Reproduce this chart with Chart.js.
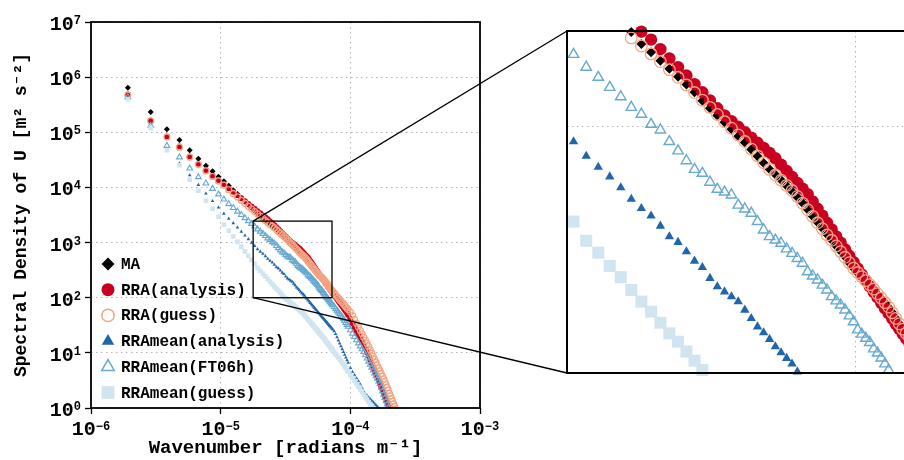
<!DOCTYPE html>
<html>
<head>
<meta charset="utf-8">
<script src="https://cdn.jsdelivr.net/npm/chart.js@4.4.1/dist/chart.umd.min.js"></script>
<style>
  html, body { margin: 0; padding: 0; background: #fff; }
  #wrap { position: relative; width: 904px; height: 460px; overflow: hidden; }
  #mainChart { position: absolute; left: 0; top: 0; }
  #insetChart { position: absolute; left: 557px; top: 21px; }
</style>
</head>
<body>
<div id="wrap">
  <canvas id="mainChart" width="904" height="460"></canvas>
  <canvas id="insetChart" width="366" height="362"></canvas>
</div>
<script>
// wavenumber index n, the wavenumber is n * dk [radians m^-1]
const dk = 9.62e-7;
const waveIndex = [
  2, 3, 4, 5, 6, 7, 8, 9, 10, 11, 12, 13, 14, 15, 16, 17, 18, 19, 20, 21, 22, 23, 24,
  25, 26, 27, 28, 29, 30, 31, 32, 33, 34, 35, 36, 37, 38, 39, 40, 41, 42, 43, 44, 45, 46, 47, 48, 49, 50,
  51, 52, 53, 54, 55, 56, 57, 58, 59, 60, 61, 62, 63, 64, 65, 66, 67, 68, 69, 70, 71, 72, 73, 74, 75, 76,
  78, 80, 82, 84, 86, 88, 90, 92, 94, 96, 98, 100,
  104, 108, 112, 116, 120, 124, 128, 132, 136, 140, 144, 148, 152, 156, 160, 164, 168, 172, 176, 180,
  184, 188, 192, 196, 200, 204, 208, 212, 216, 220, 224, 228, 232, 236, 240
];

// log10 of the spectral density [m^2 s^-2], one value per waveIndex
const maLog = [
  5.809, 5.368, 5.054, 4.860, 4.674, 4.521, 4.394, 4.293, 4.195, 4.110, 4.030, 3.950, 3.880, 3.805, 3.740, 3.680, 3.625, 3.575, 3.528, 3.484, 3.443, 3.404, 3.385,
  3.336, 3.303, 3.268, 3.236, 3.203, 3.172, 3.140, 3.106, 3.075, 3.046, 3.018, 2.990, 2.962, 2.936, 2.908, 2.880, 2.853, 2.828, 2.806, 2.784, 2.760, 2.738, 2.714, 2.690, 2.664, 2.637,
  2.612, 2.588, 2.562, 2.540, 2.516, 2.494, 2.472, 2.447, 2.425, 2.406, 2.390, 2.374, 2.357, 2.340, 2.321, 2.302, 2.285, 2.266, 2.246, 2.222, 2.200, 2.177, 2.160, 2.143, 2.127, 2.111,
  2.051, 2.016, 1.981, 1.947, 1.914, 1.882, 1.850, 1.819, 1.789, 1.759, 1.730, 1.693,
  1.617, 1.543, 1.471, 1.402, 1.336, 1.272, 1.210, 1.149, 1.085, 1.015, 0.946, 0.879, 0.815, 0.752, 0.690, 0.630, 0.572, 0.515, 0.454, 0.394,
  0.336, 0.279, 0.223, 0.168, 0.115, 0.062, 0.010, -0.040
];
const rraAnalysisLog = [
  5.686, 5.215, 4.925, 4.744, 4.562, 4.428, 4.316, 4.213, 4.135, 4.060, 3.984, 3.920, 3.860, 3.804, 3.752, 3.703, 3.657, 3.613, 3.572, 3.533, 3.495, 3.459, 3.425,
  3.386, 3.354, 3.315, 3.278, 3.242, 3.208, 3.173, 3.140, 3.107, 3.075, 3.046, 3.023, 3.000, 2.978, 2.956, 2.935, 2.914, 2.894, 2.872, 2.846, 2.821, 2.796, 2.772, 2.749, 2.726, 2.697,
  2.667, 2.639, 2.610, 2.583, 2.555, 2.529, 2.502, 2.476, 2.450, 2.425, 2.400, 2.376, 2.352, 2.329, 2.307, 2.285, 2.263, 2.242, 2.221, 2.199, 2.179, 2.159, 2.140, 2.121, 2.101, 2.083,
  2.046, 2.011, 1.976, 1.942, 1.909, 1.877, 1.845, 1.814, 1.784, 1.754, 1.725, 1.688,
  1.612, 1.538, 1.466, 1.397, 1.331, 1.267, 1.205, 1.144, 1.080, 1.010, 0.941, 0.874, 0.810, 0.747, 0.685, 0.625, 0.567, 0.510, 0.449, 0.389,
  0.331, 0.274, 0.218, 0.163, 0.110, 0.057, 0.005, -0.045
];
const rraGuessLog = [
  5.675, 5.205, 4.913, 4.730, 4.550, 4.415, 4.300, 4.198, 4.118, 4.040, 3.958, 3.889, 3.826, 3.766, 3.711, 3.659, 3.609, 3.563, 3.519, 3.477, 3.437, 3.398, 3.361,
  3.328, 3.296, 3.265, 3.232, 3.201, 3.170, 3.139, 3.108, 3.079, 3.050, 3.021, 2.994, 2.967, 2.940, 2.910, 2.882, 2.854, 2.827, 2.804, 2.783, 2.762, 2.741, 2.717, 2.690, 2.663, 2.636,
  2.610, 2.586, 2.561, 2.539, 2.516, 2.493, 2.470, 2.448, 2.426, 2.408, 2.391, 2.375, 2.359, 2.341, 2.322, 2.304, 2.286, 2.268, 2.245, 2.222, 2.200, 2.178, 2.161, 2.145, 2.128, 2.113,
  2.082, 2.052, 2.022, 1.993, 1.965, 1.938, 1.911, 1.885, 1.859, 1.834, 1.809, 1.786,
  1.739, 1.677, 1.606, 1.537, 1.471, 1.407, 1.345, 1.284, 1.226, 1.169, 1.112, 1.053, 0.995, 0.938, 0.882, 0.828, 0.775, 0.723, 0.673, 0.623,
  0.575, 0.527, 0.476, 0.422, 0.370, 0.318, 0.267, 0.218, 0.169, 0.121, 0.074, 0.028, -0.017
];
const meanAnalysisLog = [
  5.622, 5.090, 4.680, 4.436, 4.221, 4.045, 3.890, 3.754, 3.636, 3.525, 3.435, 3.353, 3.272, 3.197, 3.127, 3.061, 2.998, 2.940, 2.881, 2.836, 2.797, 2.753, 2.706,
  2.669, 2.638, 2.597, 2.554, 2.531, 2.493, 2.455, 2.429, 2.385, 2.351, 2.330, 2.310, 2.290, 2.256, 2.222, 2.188, 2.164, 2.137, 2.107, 2.083, 2.060, 2.037, 2.005, 1.980, 1.955, 1.930,
  1.906, 1.883, 1.860, 1.837, 1.815, 1.793, 1.772, 1.751, 1.730, 1.710, 1.690, 1.670, 1.651, 1.632, 1.614, 1.595, 1.577, 1.559, 1.542, 1.524, 1.507, 1.490, 1.474, 1.457, 1.441, 1.425,
  1.394, 1.341, 1.284, 1.227, 1.172, 1.119, 1.067, 1.015, 0.965, 0.915, 0.867, 0.820,
  0.728, 0.656, 0.597, 0.539, 0.484, 0.427, 0.363, 0.300, 0.253, 0.221, 0.190, 0.160, 0.132, 0.104, 0.076, 0.049, 0.023, -0.003, -0.028
];
const meanFt06hLog = [
  5.639, 5.120, 4.757, 4.547, 4.347, 4.189, 4.075, 3.977, 3.876, 3.785, 3.700, 3.629, 3.564, 3.503, 3.446, 3.392, 3.342, 3.294, 3.242, 3.201, 3.160, 3.122, 3.079,
  3.051, 3.010, 2.987, 2.940, 2.902, 2.862, 2.827, 2.811, 2.775, 2.746, 2.735, 2.723, 2.682, 2.666, 2.649, 2.615, 2.581, 2.554, 2.540, 2.527, 2.504, 2.486, 2.465, 2.446, 2.411, 2.394,
  2.378, 2.357, 2.337, 2.310, 2.293, 2.276, 2.256, 2.232, 2.208, 2.175, 2.158, 2.141, 2.124, 2.098, 2.081, 2.061, 2.037, 2.012, 1.993, 1.974, 1.956, 1.938, 1.920, 1.902, 1.884, 1.867,
  1.833, 1.800, 1.768, 1.737, 1.706, 1.676, 1.647, 1.615, 1.580, 1.545, 1.511, 1.477,
  1.413, 1.350, 1.290, 1.231, 1.175, 1.121, 1.068, 1.017, 0.960, 0.901, 0.844, 0.788, 0.735, 0.682, 0.631, 0.581, 0.532, 0.484, 0.437, 0.371,
  0.308, 0.245, 0.185, 0.125, 0.067, 0.009, -0.047
];
const meanGuessLog = [
  5.603, 5.073, 4.674, 4.402, 4.140, 3.941, 3.760, 3.614, 3.469, 3.325, 3.215, 3.111, 3.014, 2.924, 2.840, 2.761, 2.686, 2.615, 2.537, 2.489, 2.435, 2.389, 2.337,
  2.290, 2.249, 2.204, 2.161, 2.127, 2.087, 2.050, 2.012, 1.985, 1.959, 1.934, 1.910, 1.886, 1.863, 1.840, 1.818, 1.797, 1.776, 1.755, 1.735, 1.713, 1.686, 1.660, 1.635, 1.609, 1.585,
  1.561, 1.537, 1.514, 1.491, 1.469, 1.447, 1.426, 1.405, 1.384, 1.363, 1.343, 1.323, 1.304, 1.283, 1.262, 1.242, 1.221, 1.201, 1.182, 1.162, 1.143, 1.124, 1.106, 1.087, 1.069, 1.051,
  1.016, 0.982, 0.949, 0.917, 0.885, 0.854, 0.821, 0.788, 0.755, 0.723, 0.692, 0.662,
  0.603, 0.546, 0.491, 0.438, 0.387, 0.337, 0.289, 0.243, 0.198, 0.154, 0.111, 0.070, 0.030, -0.009, -0.050
];

const seriesNames = ['MA', 'RRA(analysis)', 'RRA(guess)', 'RRAmean(analysis)', 'RRAmean(FT06h)', 'RRAmean(guess)'];
const seriesLogs = [maLog, rraAnalysisLog, rraGuessLog, meanAnalysisLog, meanFt06hLog, meanGuessLog];

const xTicks = [1e-6, 1e-5, 1e-4, 1e-3];
const xTickLabels = ['10⁻⁶', '10⁻⁵', '10⁻⁴', '10⁻³'];
const yTicks = [1, 10, 100, 1e3, 1e4, 1e5, 1e6, 1e7];
const yTickLabels = ['10⁰', '10¹', '10²', '10³', '10⁴', '10⁵', '10⁶', '10⁷'];

// zoomed window drawn in the inset
const zoomX = [1.78e-5, 7.22e-5];
const zoomY = [100, 2449];
const insetGridX = [5.71e-5];
const insetGridY = [1000];

// marker looks: [radius, border width] for main plot, inset and legend
const looks = [
  {style: 'rectRot', fill: '#000000', line: '#000000', main: [3, 0], inset: [5, 0], key: [6.5, 0]},
  {style: 'circle', fill: '#ca0020', line: '#ca0020', main: [2.9, 0], inset: [6.2, 0], key: [6.5, 0]},
  {style: 'circle', fill: 'rgba(0,0,0,0)', line: '#f4a582', main: [3, 1.2], inset: [5.8, 1.3], key: [6.2, 1.5]},
  {style: 'triangle', fill: '#2166ac', line: '#2166ac', main: [2.1, 0], inset: [5.4, 0], key: [7.2, 0]},
  {style: 'triangle', fill: 'rgba(0,0,0,0)', line: '#67a9cf', main: [3.3, 1.1], inset: [6, 1.4], key: [7.2, 1.5]},
  {style: 'rect', fill: '#d1e5f0', line: '#d1e5f0', main: [3.3, 0], inset: [8.5, 0], key: [9, 0]}
];

// inset plot area on the page
const insetLeft = 567, insetTop = 31, insetBottom = 373;

const FONT = "'Liberation Mono', 'DejaVu Sans Mono', monospace";
Chart.defaults.font.family = FONT;
Chart.defaults.font.weight = 'bold';
Chart.defaults.color = '#000';

function makePoints(logs) {
  return logs.map((lv, i) => ({x: waveIndex[i] * dk, y: Math.pow(10, lv)}));
}

function inZoom(p) {
  return p.x >= zoomX[0] && p.x <= zoomX[1] && p.y >= zoomY[0] && p.y <= zoomY[1];
}

function makeDatasets(where) {
  return seriesLogs.map((logs, i) => {
    const lk = looks[i];
    let pts = makePoints(logs);
    if (where === 'inset') pts = pts.filter(inZoom);
    return {
      label: seriesNames[i],
      data: pts,
      showLine: false,
      pointStyle: lk.style,
      pointRadius: lk[where][0],
      pointBorderWidth: lk[where][1],
      pointBackgroundColor: lk.fill,
      pointBorderColor: lk.line,
      order: looks.length - i,
      clip: where === 'inset' ? false : undefined
    };
  });
}

const frame = {
  id: 'frame',
  afterDatasetsDraw(chart, args, opts) {
    const {ctx, chartArea: a} = chart;
    ctx.save();
    ctx.strokeStyle = '#000';
    ctx.lineWidth = opts.width || 1.8;
    ctx.strokeRect(a.left, a.top, a.right - a.left, a.bottom - a.top);
    ctx.restore();
  }
};

const zoomBox = {
  id: 'zoomBox',
  afterDraw(chart) {
    const {ctx, scales: {x, y}} = chart;
    const l = x.getPixelForValue(zoomX[0]);
    const r = x.getPixelForValue(zoomX[1]);
    const t = y.getPixelForValue(zoomY[1]);
    const b = y.getPixelForValue(zoomY[0]);
    ctx.save();
    ctx.strokeStyle = '#000';
    ctx.lineWidth = 1.3;
    ctx.strokeRect(l, t, r - l, b - t);
    ctx.beginPath();
    ctx.moveTo(l, t);
    ctx.lineTo(insetLeft, insetTop);
    ctx.moveTo(l, b);
    ctx.lineTo(insetLeft, insetBottom);
    ctx.stroke();
    ctx.restore();
  }
};

// power-of-ten tick labels: "10" with a small raised exponent
const supToPlain = {'⁰': '0', '¹': '1', '²': '2', '³': '3', '⁴': '4', '⁵': '5', '⁶': '6', '⁷': '7', '⁸': '8', '⁹': '9', '⁻': '−'};
function splitLabel(s) {
  return [s.slice(0, 2), s.slice(2).split('').map(c => supToPlain[c] || c).join('')];
}
const powLabels = {
  id: 'powLabels',
  afterDraw(chart) {
    const {ctx, scales: {x, y}, chartArea: a} = chart;
    const big = 'bold 20px ' + FONT, small = 'bold 12px ' + FONT;
    ctx.save();
    ctx.fillStyle = '#000';
    ctx.textBaseline = 'alphabetic';
    ctx.textAlign = 'left';
    x.ticks.forEach((t, i) => {
      const [b, e] = splitLabel(xTickLabels[i]);
      ctx.font = big; const wb = ctx.measureText(b).width;
      ctx.font = small; const we = ctx.measureText(e).width;
      const left = x.getPixelForValue(t.value) - (wb + we) / 2;
      ctx.font = big; ctx.fillText(b, left, a.bottom + 27);
      ctx.font = small; ctx.fillText(e, left + wb, a.bottom + 22);
    });
    y.ticks.forEach((t, i) => {
      const [b, e] = splitLabel(yTickLabels[i]);
      ctx.font = big; const wb = ctx.measureText(b).width;
      ctx.font = small; const we = ctx.measureText(e).width;
      const py = y.getPixelForValue(t.value);
      const left = a.left - 10 - wb - we;
      ctx.font = big; ctx.fillText(b, left, py + 8);
      ctx.font = small; ctx.fillText(e, left + wb, py + 2);
    });
    ctx.restore();
  }
};

const keyBox = {
  id: 'keyBox',
  afterDraw(chart) {
    const ctx = chart.ctx;
    const a = chart.chartArea;
    ctx.save();
    ctx.font = 'bold 16px ' + FONT;
    ctx.textBaseline = 'middle';
    ctx.textAlign = 'left';
    seriesNames.forEach((name, i) => {
      const lk = looks[i];
      const y = 264 + i * 25.7;
      ctx.fillStyle = lk.fill;
      ctx.strokeStyle = lk.line;
      ctx.lineWidth = lk.key[1];
      Chart.helpers.drawPoint(ctx, {pointStyle: lk.style, radius: lk.key[0], borderWidth: lk.key[1], rotation: 0}, a.left + 17, y);
      ctx.fillStyle = '#000';
      ctx.fillText(name, a.left + 30, y + 1);
    });
    ctx.restore();
  }
};

const gridLook = {color: '#b5b5b5', lineWidth: 1, tickLength: 6, tickColor: '#000', tickWidth: 1.3, tickBorderDash: []};

new Chart(document.getElementById('mainChart'), {
  type: 'scatter',
  data: {datasets: makeDatasets('main')},
  options: {
    responsive: false,
    animation: false,
    events: [],
    layout: {padding: {left: 0, top: 22, right: 424, bottom: 0}},
    plugins: {legend: {display: false}, tooltip: {enabled: false}, frame: {width: 1.8}},
    scales: {
      x: {
        type: 'logarithmic', min: 1e-6, max: 1e-3,
        afterBuildTicks: s => { s.ticks = xTicks.map(v => ({value: v})); },
        afterFit: s => { s.height = 52; },
        ticks: {display: false},
        grid: gridLook,
        border: {display: false, dash: [1.5, 3.5]},
        title: {display: true, text: 'Wavenumber [radians m⁻¹]', font: {size: 19, weight: 'bold'}, padding: {top: 0, bottom: 0}}
      },
      y: {
        type: 'logarithmic', min: 1, max: 1e7,
        afterBuildTicks: s => { s.ticks = yTicks.map(v => ({value: v})); },
        afterFit: s => { s.width = 91; },
        ticks: {display: false},
        grid: gridLook,
        border: {display: false, dash: [1.5, 3.5]},
        title: {display: true, text: 'Spectral Density of U [m² s⁻²]', font: {size: 18, weight: 'bold'}, padding: {top: 11, bottom: 0}}
      }
    }
  },
  plugins: [frame, zoomBox, powLabels, keyBox]
});

new Chart(document.getElementById('insetChart'), {
  type: 'scatter',
  data: {datasets: makeDatasets('inset')},
  options: {
    responsive: false,
    animation: false,
    events: [],
    layout: {padding: 10},
    plugins: {legend: {display: false}, tooltip: {enabled: false}, frame: {width: 2}},
    scales: {
      x: {
        type: 'logarithmic', min: zoomX[0], max: zoomX[1],
        afterBuildTicks: s => { s.ticks = insetGridX.map(v => ({value: v})); },
        afterFit: s => { s.height = 0; },
        ticks: {display: false},
        grid: {color: '#b5b5b5', lineWidth: 1, drawTicks: false},
        border: {display: false, dash: [1.5, 3.5]}
      },
      y: {
        type: 'logarithmic', min: zoomY[0], max: zoomY[1],
        afterBuildTicks: s => { s.ticks = insetGridY.map(v => ({value: v})); },
        afterFit: s => { s.width = 0; },
        ticks: {display: false},
        grid: {color: '#b5b5b5', lineWidth: 1, drawTicks: false},
        border: {display: false, dash: [1.5, 3.5]}
      }
    }
  },
  plugins: [frame]
});
</script>
</body>
</html>
